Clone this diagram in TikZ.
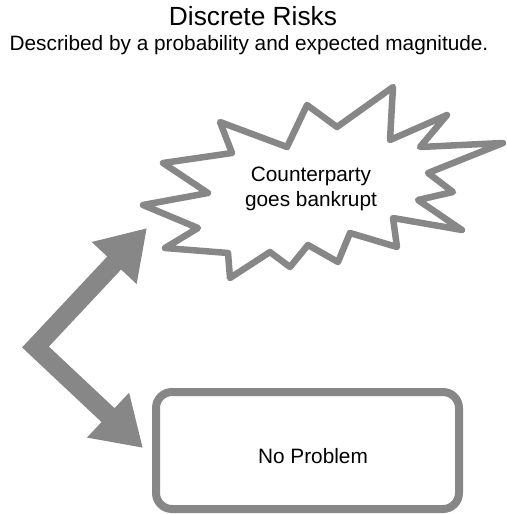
\documentclass[tikz,border=0pt]{standalone}
\usepackage{fontspec}
\setmainfont{Liberation Sans}
\usetikzlibrary{arrows.meta}
\definecolor{strokegray}{RGB}{135,135,135}
\tikzset{
  burststroke/.style={draw=strokegray, line width=6.5pt, line join=round, fill=white},
  boxstroke/.style={draw=strokegray, line width=8pt, rounded corners=16pt, fill=white,
    minimum width=303pt, minimum height=117pt, inner sep=0pt},
  bigarrow/.style={draw=strokegray, line width=19pt, line join=miter,
    {Triangle[width=58pt,length=48pt]}-{Triangle[width=58pt,length=48pt]}},
  titletext/.style={font=\fontsize{26.3}{30}\selectfont, anchor=base, inner sep=0pt},
  bodytext/.style={font=\fontsize{20.8}{25}\selectfont, inner sep=0pt}
}
\begin{document}
\begin{tikzpicture}[x=1pt,y=-1pt]
\useasboundingbox (0,0) rectangle (506,514);
\node[titletext] (title) at (253,25) {Discrete Risks};
\node[bodytext, anchor=base] (subtitle) at (249,50) {Described by a probability and expected magnitude.};
% starburst
\draw[burststroke] (220,122) -- (287,147) -- (307,105) -- (337,127) -- (393,87)
  -- (390,140) -- (447,115) -- (420,147) -- (503,143) -- (428,173)
  -- (453,192) -- (418,200) -- (462,230) -- (393,218) -- (397,247)
  -- (350,233) -- (338,262) -- (308,245) -- (290,267) -- (270,252)
  -- (230,278) -- (228,253) -- (165,248) -- (198,228) -- (143,205)
  -- (208,193) -- (163,163) -- (232,153) -- cycle;
\node[bodytext, align=center] (burst) at (311,189) {Counterparty\\goes bankrupt};
% box
\node[boxstroke] (np) at (307.5,450.5) {};
\node[bodytext] (nptext) at (313,455.8) {No Problem};
% arrow
\coordinate (uptip) at (147,228);
\coordinate (elbow) at (35.5,347);
\coordinate (dntip) at (143,448);
\draw[bigarrow] (uptip) -- (elbow) -- (dntip);
\end{tikzpicture}
\end{document}
